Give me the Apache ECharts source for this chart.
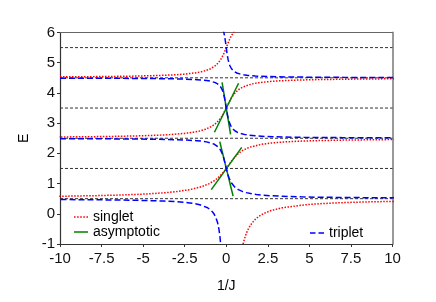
<!DOCTYPE html>
<html><head><meta charset="utf-8">
<script src="https://cdn.jsdelivr.net/npm/echarts@6/dist/echarts.min.js"></script>
<style>html,body{margin:0;padding:0;background:#fff}#c{width:436px;height:302px}</style>
</head><body><div id="c"></div>
<script>
// ---- data ----
const xTicks = [-10, -7.5, -5, -2.5, 0, 2.5, 5, 7.5, 10];
const yTicks = [-1, 0, 1, 2, 3, 4, 5, 6];
const levels = [0.5, 1.5, 2.5, 3.5, 4.5, 5.5];

// singlet branches [1/J, E]
const singlet0 = [[0.973,-1.1],[1.014,-1.0],[1.060,-0.9],[1.113,-0.8],[1.174,-0.7],[1.245,-0.6],[1.329,-0.5],[1.431,-0.4],[1.557,-0.3],[1.717,-0.2],[1.927,-0.1],[2.219,0],[2.653,0.1],[3.369,0.2],[4.792,0.3],[5.262,0.32],[5.855,0.34],[6.613,0.36],[7.622,0.38],[9.035,0.4],[11.154,0.42]];
const singlet1 = [[-11.49,0.57],[-9.98,0.58],[-7.861,0.6],[-6.448,0.62],[-5.438,0.64],[-4.68,0.66],[-3.613,0.7],[-2.902,0.74],[-2.185,0.8],[-1.459,0.9],[-1.014,1.0],[-0.707,1.1],[-0.477,1.2],[-0.293,1.3],[-0.138,1.4],[0,1.5],[0.130,1.6],[0.2595,1.7],[0.396,1.8],[0.551,1.9],[0.740,2.0],[0.995,2.1],[1.387,2.2],[2.130,2.3],[2.673,2.34],[3.568,2.38],[4.280,2.4],[5.345,2.42],[7.115,2.44],[10.65,2.46]];
const singlet2 = [[-10.49,2.54],[-8.37,2.55],[-6.955,2.56],[-5.183,2.58],[-4.118,2.6],[-3.407,2.62],[-2.513,2.66],[-1.971,2.7],[-1.607,2.74],[-1.235,2.8],[-0.851,2.9],[-0.608,3.0],[-0.435,3.1],[-0.300,3.2],[-0.189,3.3],[-0.0907,3.4],[0,3.5],[0.0881,3.6],[0.178,3.7],[0.276,3.8],[0.389,3.9],[0.528,4.0],[0.7185,4.1],[1.012,4.2],[1.569,4.3],[1.977,4.34],[2.648,4.38],[3.182,4.4],[3.981,4.42],[5.309,4.44],[7.959,4.46],[10.6,4.47]];
const singlet3 = [[-10.54,4.53],[-7.89,4.54],[-6.303,4.55],[-5.242,4.56],[-3.913,4.58],[-3.113,4.6],[-2.58,4.62],[-1.909,4.66],[-1.502,4.7],[-1.228,4.74],[-0.9476,4.8],[-0.658,4.9],[-0.473,5.0],[-0.340,5.1],[-0.2365,5.2],[-0.149,5.3],[-0.072,5.4],[0,5.5],[0.0709,5.6],[0.144,5.7],[0.224,5.8],[0.317,5.9],[0.432,6.0],[0.590,6.1]];

// triplet branches [1/J, E]
const triplet0 = [[-14.3,0.48],[-9.595,0.47],[-7.246,0.46],[-5.835,0.45],[-4.894,0.44],[-3.718,0.42],[-3.012,0.4],[-2.541,0.38],[-2.204,0.36],[-1.9515,0.34],[-1.597,0.3],[-1.123,0.2],[-0.884,0.1],[-0.740,0],[-0.642,-0.1],[-0.519,-0.3],[-0.443,-0.5],[-0.391,-0.7],[-0.353,-0.9],[-0.338,-1.0],[-0.324,-1.1]];
const triplet1 = [[-10,2.486],[-7.08,2.48],[-4.725,2.47],[-3.549,2.46],[-2.372,2.44],[-1.782,2.42],[-1.427,2.4],[-1.189,2.38],[-0.891,2.34],[-0.710,2.3],[-0.462,2.2],[-0.332,2.1],[-0.2466,2.0],[-0.184,1.9],[-0.132,1.8],[-0.0865,1.7],[-0.0434,1.6],[0,1.5],[0.046,1.4],[0.098,1.3],[0.159,1.2],[0.236,1.1],[0.338,1.0],[0.486,0.9],[0.728,0.8],[0.9675,0.74],[1.204,0.7],[1.56,0.66],[1.8125,0.64],[2.149,0.62],[2.620,0.6],[3.33,0.58],[4.505,0.56],[5.446,0.55],[6.86,0.54],[9.21,0.53],[11.09,0.525]];
const triplet2 = [[-10,4.4894],[-5.30,4.48],[-3.535,4.47],[-2.653,4.46],[-1.7695,4.44],[-1.327,4.42],[-1.0608,4.4],[-0.883,4.38],[-0.659,4.34],[-0.5231,4.3],[-0.3374,4.2],[-0.2395,4.1],[-0.1761,4.0],[-0.1296,3.9],[-0.092,3.8],[-0.0595,3.7],[-0.0294,3.6],[0,3.5],[0.0302,3.4],[0.0629,3.3],[0.100,3.2],[0.145,3.1],[0.2028,3.0],[0.2838,2.9],[0.4116,2.8],[0.536,2.74],[0.657,2.7],[0.838,2.66],[1.136,2.62],[1.3725,2.6],[1.728,2.58],[2.318,2.56],[2.79,2.55],[3.496,2.54],[4.67,2.53],[7.02,2.52],[10.05,2.514]];
const triplet3 = [[-0.197,6.1],[-0.144,6.0],[-0.1056,5.9],[-0.0747,5.8],[-0.048,5.7],[-0.0236,5.6],[0,5.5],[0.024,5.4],[0.0498,5.3],[0.0788,5.2],[0.113,5.1],[0.158,5.0],[0.219,4.9],[0.316,4.8],[0.409,4.74],[0.5005,4.7],[0.636,4.66],[0.86,4.62],[1.038,4.6],[1.304,4.58],[1.747,4.56],[2.101,4.55],[2.63,4.54],[3.51,4.53],[5.28,4.52],[7.04,4.515],[10.57,4.51]];

// asymptotic straight segments near 1/J = 0
const asymS1 = [[-0.9,0.8],[0.93,2.2]];
const asymT1 = [[-0.39,2.39],[0.41,0.59]];
const asymS2 = [[-0.71,2.7],[0.74,4.32]];
const asymT2 = [[-0.25,4.35],[0.26,2.63]];

// ---- chart ----
const FONT = 'Liberation Sans, Arial, sans-serif';
const ICON_DOTTED = 'path://M0,0h1.5v1.5h-1.5z M3,0h1.5v1.5h-1.5z M6,0h1.5v1.5h-1.5z M9,0h1.5v1.5h-1.5z M12,0h1.5v1.5h-1.5z';
const ICON_SOLID = 'path://M0,0h14v1.5h-14z';
const ICON_DASHED = 'path://M0,0h5.5v1.5h-5.5z M8.5,0h5.5v1.5h-5.5z';

const chart = echarts.init(document.getElementById('c'), null, {renderer: 'canvas'});

function curve(name, data, color, type, width) {
  return {name, type: 'line', data, symbol: 'none', showSymbol: false, clip: true,
    silent: true, z: 3, lineStyle: {color, type, width}, itemStyle: {color}};
}
const series = [];
levels.forEach(v => series.push({
  type: 'line', data: [[xTicks[0], v], [xTicks[xTicks.length - 1], v]], symbol: 'none', silent: true, z: 2,
  lineStyle: {color: '#333', width: 1, type: [3, 2]}
}));
[singlet0, singlet1, singlet2, singlet3].forEach(d => series.push(curve('singlet', d, '#ff0000', 'dotted', 1.5)));
[asymS1, asymT1, asymS2, asymT2].forEach(d => series.push(curve('asymptotic', d, '#008000', 'solid', 1.5)));
[triplet0, triplet1, triplet2, triplet3].forEach(d => series.push(curve('triplet', d, '#0000ff', 'dashed', 1.5)));

const legendText = {fontSize: 14, color: '#000', fontFamily: FONT};
chart.setOption({
  animation: false,
  backgroundColor: '#fff',
  textStyle: {fontFamily: FONT},
  grid: {left: 60, right: 43.5, top: 32.5, bottom: 58, containLabel: false, outerBoundsMode: 'none'},
  legend: [
    {data: [{name: 'singlet', icon: ICON_DOTTED}, {name: 'asymptotic', icon: ICON_SOLID}],
     orient: 'vertical', left: 74, top: 210, padding: 0, itemGap: 1, symbolKeepAspect: true,
     itemWidth: 14, itemHeight: 14, textStyle: legendText, selectedMode: false},
    {data: [{name: 'triplet', icon: ICON_DASHED}], orient: 'vertical', left: 310, top: 226, padding: 0,
     symbolKeepAspect: true, itemWidth: 14, itemHeight: 14, textStyle: legendText, selectedMode: false}
  ],
  xAxis: [
    {type: 'value', min: xTicks[0], max: xTicks[xTicks.length - 1], interval: xTicks[1] - xTicks[0],
     name: '1/J', nameLocation: 'middle', nameGap: 35,
     nameTextStyle: {fontSize: 14, color: '#000', fontFamily: FONT},
     axisLine: {show: true, onZero: false, lineStyle: {color: '#333', width: 1.2}},
     axisTick: {show: true, inside: false, length: 3, lineStyle: {color: '#333'}},
     axisLabel: {fontSize: 15, color: '#111', margin: 7, fontFamily: FONT},
     splitLine: {show: false}},
    {type: 'value', position: 'top', min: xTicks[0], max: xTicks[xTicks.length - 1],
     axisLine: {show: true, onZero: false, lineStyle: {color: '#666', width: 1}},
     axisTick: {show: false}, axisLabel: {show: false}, splitLine: {show: false}}
  ],
  yAxis: [
    {type: 'value', min: yTicks[0], max: yTicks[yTicks.length - 1], interval: yTicks[1] - yTicks[0],
     name: 'E', nameLocation: 'middle', nameGap: 20,
     nameTextStyle: {fontSize: 14, color: '#000', fontFamily: FONT},
     axisLine: {show: true, onZero: false, lineStyle: {color: '#333', width: 1.2}},
     axisTick: {show: true, inside: false, length: 3, lineStyle: {color: '#333'}},
     axisLabel: {fontSize: 15, color: '#111', margin: 5, fontFamily: FONT},
     splitLine: {show: false}},
    {type: 'value', position: 'right', min: yTicks[0], max: yTicks[yTicks.length - 1],
     axisLine: {show: true, onZero: false, lineStyle: {color: '#999', width: 2}},
     axisTick: {show: false}, axisLabel: {show: false}, splitLine: {show: false}}
  ],
  series
});
</script></body></html>
